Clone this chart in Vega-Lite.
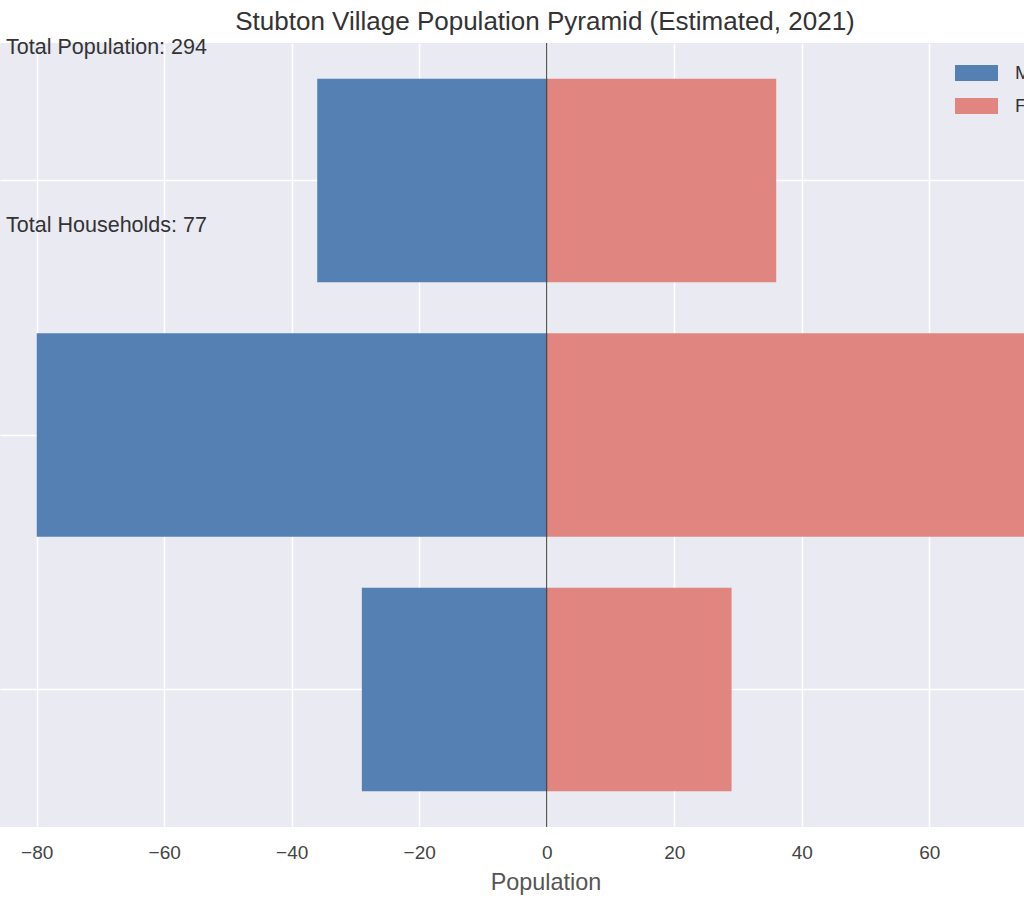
{
  "$schema": "https://vega.github.io/schema/vega-lite/v6.json",
  "width": 1024,
  "height": 784,
  "autosize": {"type": "none"},
  "padding": {"left": 0, "top": 43, "right": 0, "bottom": 81},
  "background": "white",
  "title": {
    "text": "Stubton Village Population Pyramid (Estimated, 2021)",
    "fontSize": 26,
    "fontWeight": "normal",
    "color": "#333333",
    "anchor": "middle",
    "dx": 33,
    "offset": 2
  },
  "layer": [
    {
      "data": {
        "values": [
          {"age_group": "0-17", "sex": "Male", "population": -29},
          {"age_group": "0-17", "sex": "Female", "population": 29},
          {"age_group": "18-64", "sex": "Male", "population": -80},
          {"age_group": "18-64", "sex": "Female", "population": 84},
          {"age_group": "65+", "sex": "Male", "population": -36},
          {"age_group": "65+", "sex": "Female", "population": 36}
        ]
      },
      "mark": {"type": "bar", "clip": true},
      "encoding": {
        "y": {
          "field": "age_group",
          "type": "nominal",
          "sort": ["65+", "18-64", "0-17"],
          "scale": {"paddingInner": 0.2, "paddingOuter": 0.14},
          "axis": {
            "title": null,
            "labels": false,
            "ticks": false,
            "domain": false,
            "grid": true,
            "gridColor": "white",
            "gridWidth": 1.5,
            "bandPosition": 0.5
          }
        },
        "x": {
          "field": "population",
          "type": "quantitative",
          "scale": {"domain": [-85.76, 74.87], "nice": false, "zero": false},
          "axis": {
            "values": [-80, -60, -40, -20, 0, 20, 40, 60],
            "title": "Population",
            "grid": true,
            "gridColor": "white",
            "gridWidth": 1.5,
            "ticks": false,
            "domain": false,
            "labelFontSize": 19,
            "labelColor": "#444444",
            "labelPadding": 16,
            "titleFontSize": 23.4,
            "titleColor": "#555555",
            "titleFontWeight": "normal",
            "titleBaseline": "alphabetic",
            "titleAlign": "center",
            "titleX": 545.5,
            "titleY": 62
          }
        },
        "color": {
          "field": "sex",
          "type": "nominal",
          "scale": {"domain": ["Male", "Female"], "range": ["#5580B3", "#E08580"]},
          "legend": {
            "title": null,
            "orient": "none",
            "legendX": 955,
            "legendY": 8.5,
            "padding": 0,
            "symbolType": "M-1,-0.372H1V0.372H-1Z",
            "symbolSize": 1849,
            "symbolStrokeWidth": 0,
            "labelFontSize": 19,
            "labelColor": "#333333",
            "labelOffset": 17,
            "rowPadding": 1
          }
        }
      }
    },
    {
      "data": {"values": [{"zero": 0}]},
      "mark": {"type": "rule", "color": "#333333", "strokeWidth": 1},
      "encoding": {"x": {"field": "zero", "type": "quantitative"}}
    },
    {
      "data": {
        "values": [
          {"label": "Total Population: 294", "px": -84.8, "py": 0.986},
          {"label": "Total Households: 77", "px": -84.8, "py": 0.759}
        ]
      },
      "mark": {"type": "text", "align": "left", "baseline": "alphabetic", "fontSize": 21.5, "color": "#333333"},
      "encoding": {
        "x": {"field": "px", "type": "quantitative"},
        "y": {"field": "py", "type": "quantitative", "scale": {"domain": [0, 1]}, "axis": null},
        "text": {"field": "label"}
      }
    }
  ],
  "resolve": {"scale": {"y": "independent"}},
  "config": {
    "font": "Liberation Sans",
    "view": {"fill": "#EAEAF2", "stroke": null}
  }
}
